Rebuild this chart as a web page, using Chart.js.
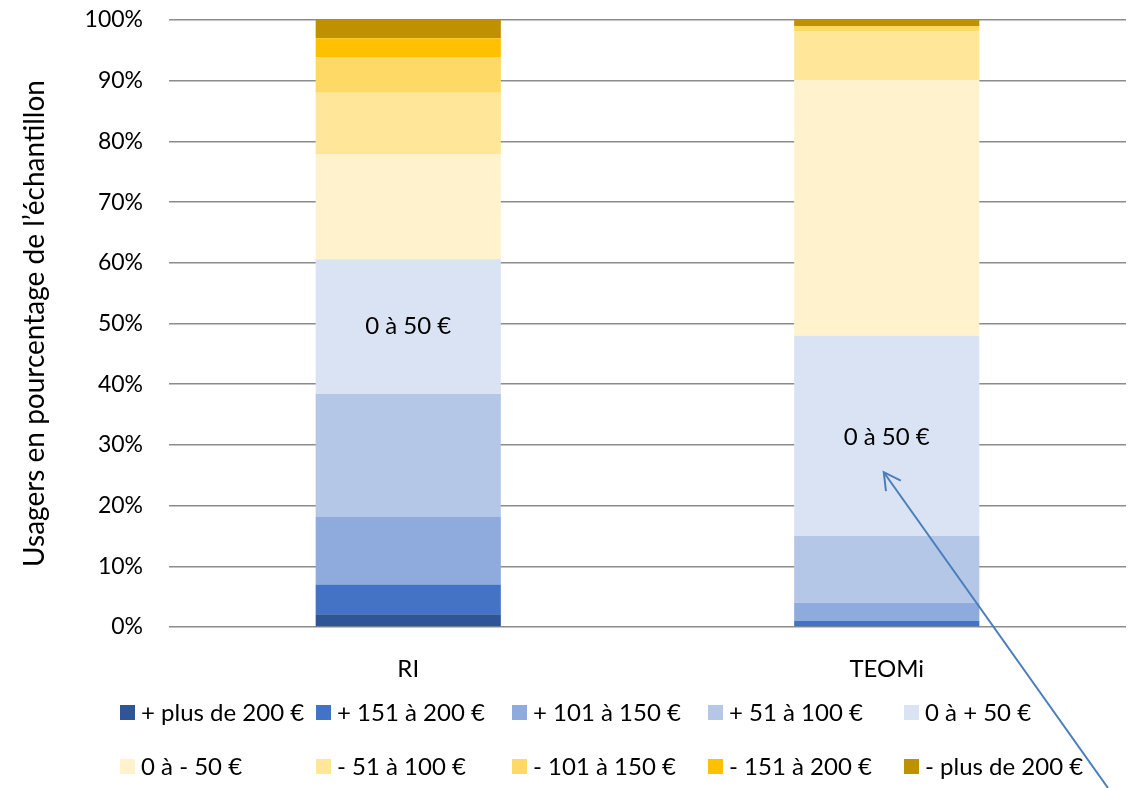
<!DOCTYPE html>
<html>
<head>
<meta charset="utf-8">
<script src="https://cdn.jsdelivr.net/npm/chart.js@4/dist/chart.umd.min.js"></script>
<style>
  html, body { margin: 0; padding: 0; background: #fff; }
  #wrap { width: 1128px; height: 788px; position: relative; }
</style>
</head>
<body>
<div id="wrap"><canvas id="chart"></canvas></div>
<script>
// categories and series (share of users, %)
var categories = ["RI", "TEOMi"];
var seriesNames = [
    "+ plus de 200 €", "+ 151 à 200 €", "+ 101 à 150 €", "+ 51 à 100 €", "0 à + 50 €",
    "0 à - 50 €", "- 51 à 100 €", "- 101 à 150 €", "- 151 à 200 €", "- plus de 200 €"
];
var plus200 = [2.1, 0];
var plus151 = [4.9, 1.0];
var plus101 = [11.2, 3.0];
var plus51 = [20.2, 11.0];
var plus0 = [22.2, 33.0];
var minus0 = [17.3, 42.1];
var minus51 = [10.1, 8.0];
var minus101 = [5.9, 0.9];
var minus151 = [3.1, 0];
var minus200 = [3.0, 1.0];
var yTicks = [0, 10, 20, 30, 40, 50, 60, 70, 80, 90, 100];

// callout text placed on the "0 à + 50 €" segments
var calloutText = "0 à 50 €";
var calloutValues = [49.5, 31.3];
var arrowTipValue = 25.5;

var colors = ["#2F5597", "#4472C4", "#8FAADC", "#B4C7E7", "#DAE3F3",
              "#FFF2CC", "#FFE699", "#FFD966", "#FFC000", "#BF9000"];
var seriesValues = [plus200, plus151, plus101, plus51, plus0,
                    minus0, minus51, minus101, minus151, minus200];

var FONT = "Lato, 'DejaVu Sans', sans-serif";

var datasets = seriesNames.map(function (name, i) {
    return {
        label: name,
        data: seriesValues[i],
        backgroundColor: colors[i],
        borderWidth: 0,
        categoryPercentage: 1,
        barPercentage: 0.387
    };
});

// labels and arrow drawn over the bars
var calloutPlugin = {
    id: "callout",
    afterDatasetsDraw: function (chart) {
        var ctx = chart.ctx;
        var x = chart.scales.x;
        var y = chart.scales.y;
        ctx.save();
        ctx.fillStyle = "#000";
        ctx.font = "24px " + FONT;
        ctx.textAlign = "center";
        ctx.textBaseline = "middle";
        categories.forEach(function (c, i) {
            ctx.fillText(calloutText, x.getPixelForValue(i), y.getPixelForValue(calloutValues[i]));
        });

        // arrow pointing at the TEOMi label
        var tipX = x.getPixelForValue(1) - 3;
        var tipY = y.getPixelForValue(arrowTipValue);
        var tailX = chart.width - 20;
        var tailY = chart.height;
        ctx.strokeStyle = "#4A7EBB";
        ctx.lineWidth = 2;
        ctx.beginPath();
        ctx.moveTo(tailX, tailY);
        ctx.lineTo(tipX, tipY);
        ctx.stroke();
        var ang = Math.atan2(tailY - tipY, tailX - tipX);
        var len = 19;
        ctx.beginPath();
        ctx.moveTo(tipX + len * Math.cos(ang - 0.5), tipY + len * Math.sin(ang - 0.5));
        ctx.lineTo(tipX, tipY);
        ctx.lineTo(tipX + len * Math.cos(ang + 0.5), tipY + len * Math.sin(ang + 0.5));
        ctx.stroke();
        ctx.restore();
    }
};

// two-row legend with fixed columns, like the original
var gridLegendPlugin = {
    id: "gridLegend",
    afterDraw: function (chart) {
        var ctx = chart.ctx;
        var colX = [120, 316, 512, 708, 904];
        var rowY = [712, 766];
        ctx.save();
        ctx.font = "24px " + FONT;
        ctx.textBaseline = "middle";
        ctx.textAlign = "left";
        chart.data.datasets.forEach(function (ds, i) {
            var cx = colX[i % 5];
            var cy = rowY[Math.floor(i / 5)];
            ctx.fillStyle = ds.backgroundColor;
            ctx.fillRect(cx, cy - 7, 15, 15);
            ctx.fillStyle = "#000";
            ctx.fillText(ds.label, cx + 21, cy + 1);
        });
        ctx.restore();
    }
};

new Chart(document.getElementById("chart"), {
    type: "bar",
    data: {
        labels: categories,
        datasets: datasets
    },
    options: {
        responsive: true,
        maintainAspectRatio: false,
        animation: false,
        layout: {
            padding: { top: 20, right: 2, bottom: 0, left: 0 }
        },
        scales: {
            x: {
                stacked: true,
                grid: { display: false },
                border: { display: false },
                ticks: {
                    color: "#000",
                    padding: 20,
                    font: { family: FONT, size: 24 }
                },
                afterFit: function (scale) {
                    scale.height = 161;
                }
            },
            y: {
                stacked: true,
                min: 0,
                max: 100,
                border: { display: false },
                grid: {
                    color: "#8C8C8C",
                    lineWidth: 1.5,
                    drawTicks: true,
                    tickLength: 22,
                    tickColor: "rgba(0,0,0,0)"
                },
                afterBuildTicks: function (scale) {
                    scale.ticks = yTicks.map(function (v) { return { value: v }; });
                },
                ticks: {
                    color: "#000",
                    padding: 4,
                    font: { family: FONT, size: 23 },
                    callback: function (v) { return v + "%"; }
                },
                title: {
                    display: true,
                    text: "Usagers en pourcentage de l’échantillon",
                    color: "#000",
                    padding: { top: 18, bottom: 0 },
                    font: { family: FONT, size: 28 }
                },
                afterFit: function (scale) {
                    scale.width = 169;
                }
            }
        },
        plugins: {
            legend: { display: false },
            tooltip: { enabled: false }
        }
    },
    plugins: [calloutPlugin, gridLegendPlugin]
});
</script>
</body>
</html>
